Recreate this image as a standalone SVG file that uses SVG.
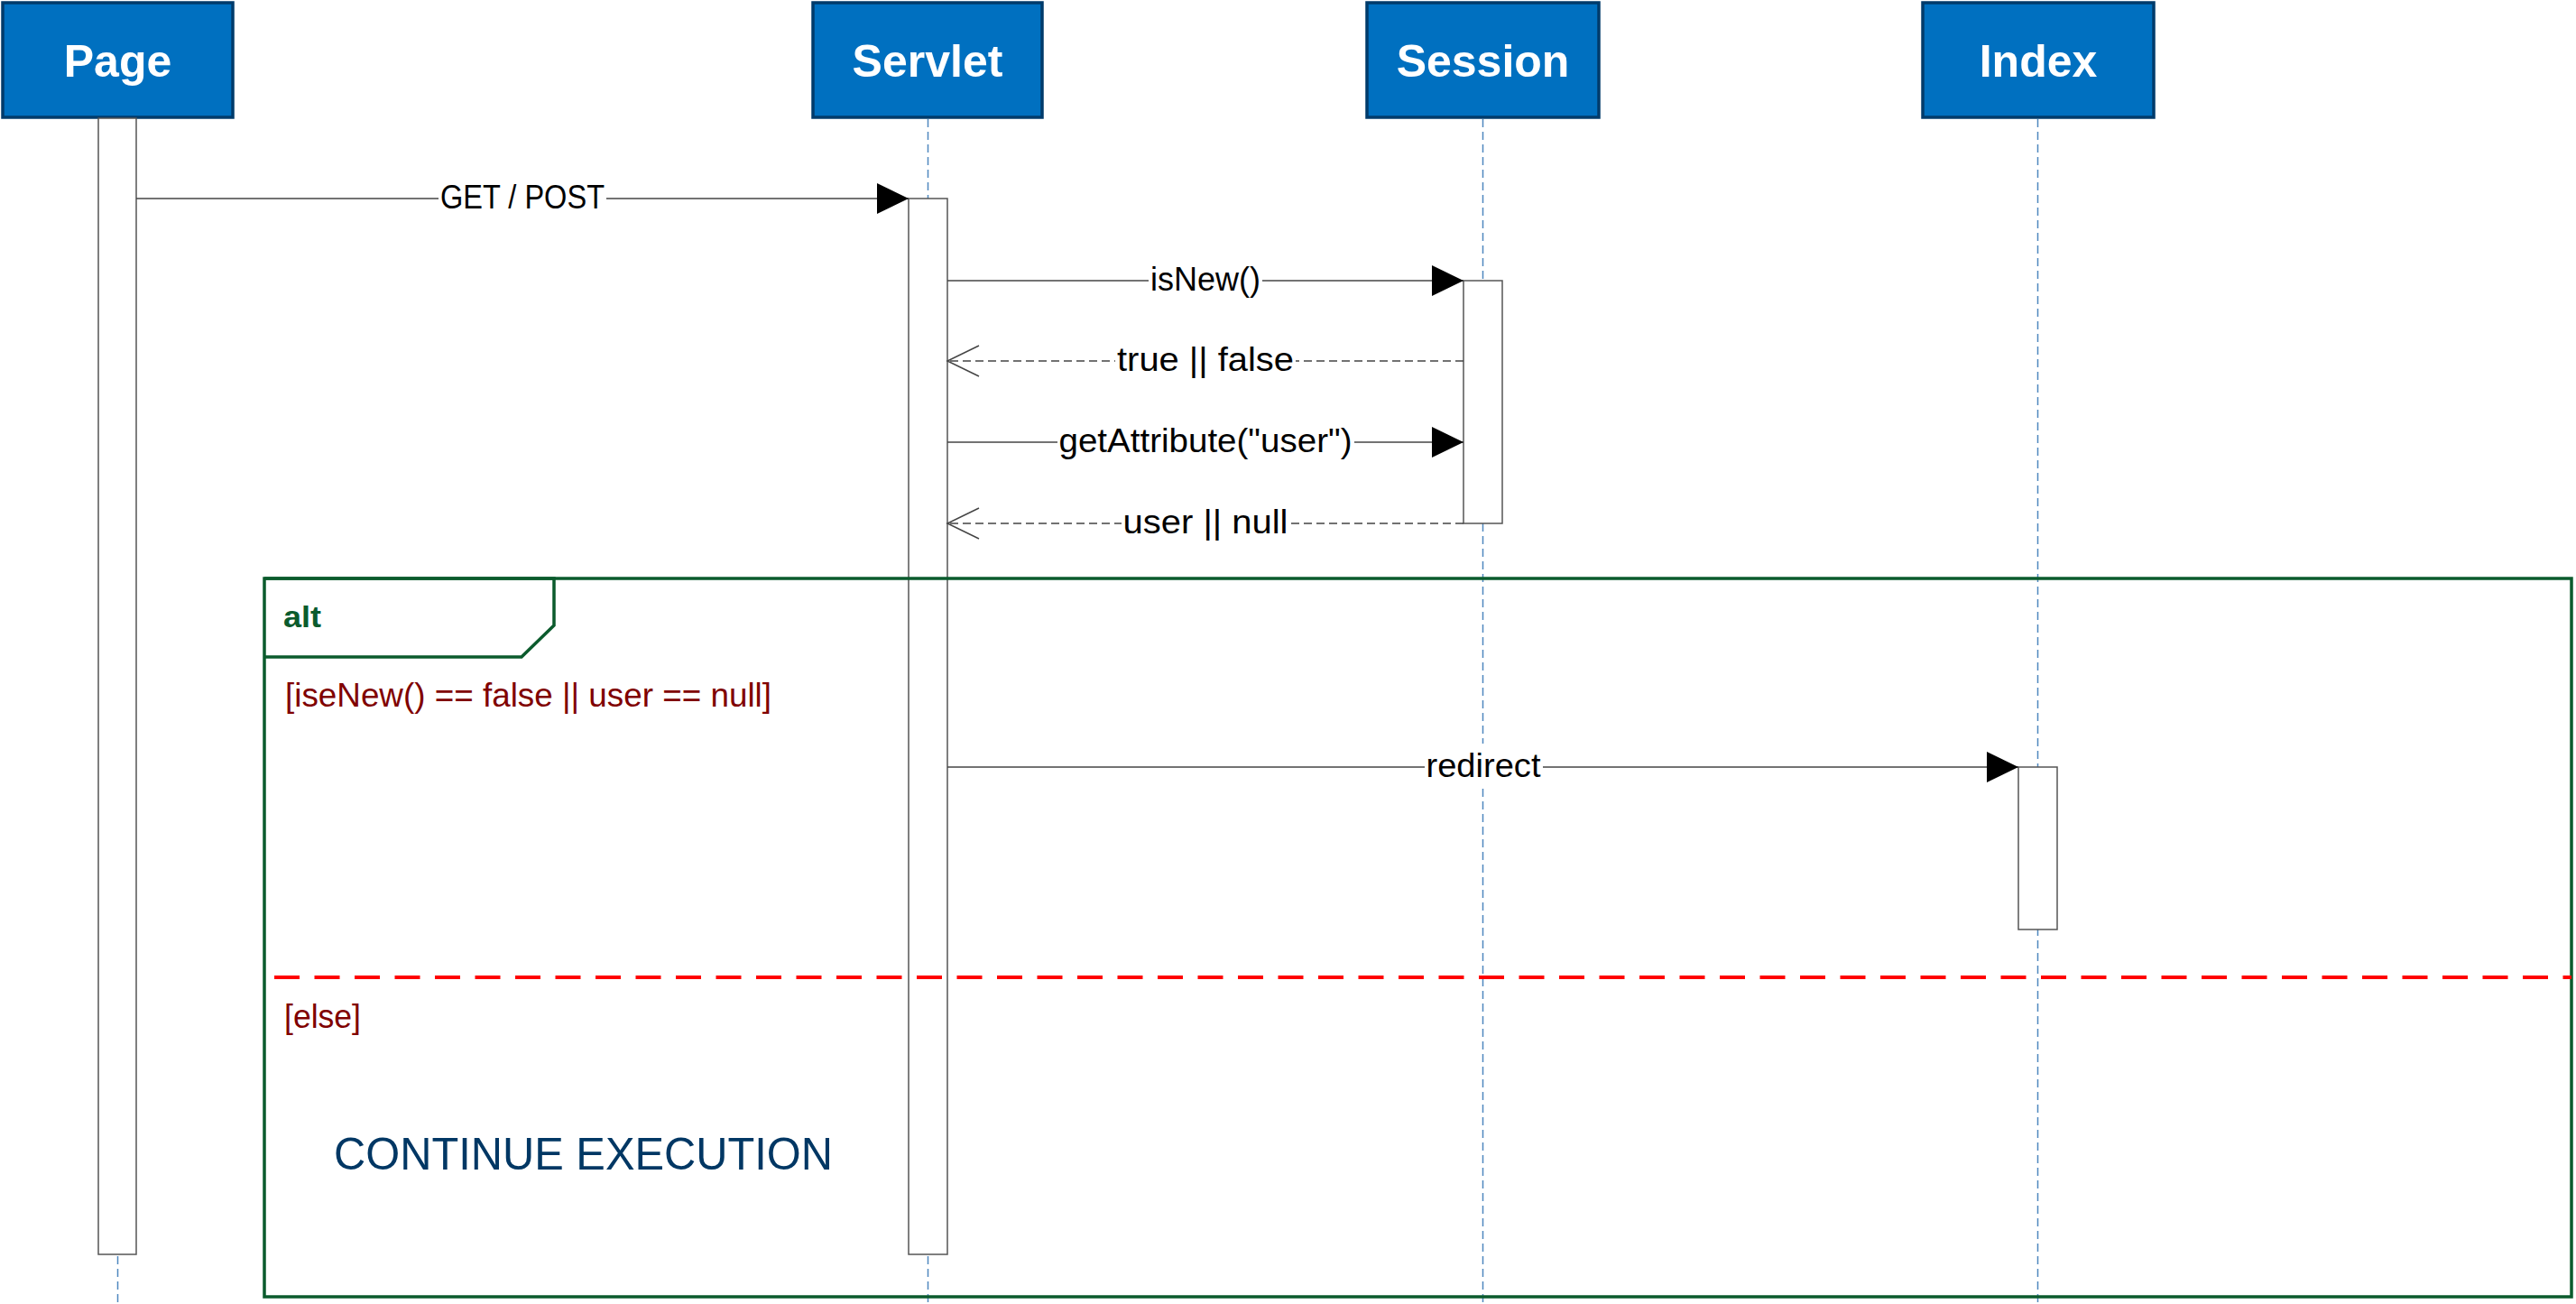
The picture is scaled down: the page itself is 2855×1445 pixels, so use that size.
<svg xmlns="http://www.w3.org/2000/svg" width="2855" height="1445" viewBox="0 0 2855 1445">
<style>
.hdr{fill:#0070C0;stroke:#003B6B;stroke-width:3.5}
.hdrt{font-family:"Liberation Sans",Arial,sans-serif;font-weight:bold;font-size:50px;fill:#FFFFFF;text-anchor:middle}
.life{stroke:#4F88BF;stroke-width:1.5;stroke-dasharray:9 5;fill:none}
.act{fill:#FFFFFF;stroke:#555555;stroke-width:1.5}
.msg{stroke:#444444;stroke-width:1.5;fill:none}
.ret{stroke:#444444;stroke-width:1.5;stroke-dasharray:9 5;fill:none}
.lbl{font-family:"Liberation Sans",Arial,sans-serif;font-size:36px;fill:#000000;text-anchor:middle}
.bg{fill:#FFFFFF}
.frame{fill:none;stroke:#0B5B2D;stroke-width:3.5}
.guard{font-family:"Liberation Sans",Arial,sans-serif;font-size:36px;fill:#800000}
</style>
<defs>
<marker id="filled" markerUnits="userSpaceOnUse" markerWidth="36" markerHeight="36" refX="35" refY="17" orient="auto">
<path d="M0,0 L35,17 L0,34 Z" fill="#000000"/>
</marker>
<marker id="open" markerUnits="userSpaceOnUse" markerWidth="38" markerHeight="38" refX="36" refY="18" orient="auto">
<path d="M1,1 L36,18 L1,35" fill="none" stroke="#444444" stroke-width="1.5"/>
</marker>
</defs>
<rect x="0" y="0" width="2855" height="1445" fill="#FFFFFF"/>

<g id="lifelines">
<line class="life" x1="130.5" y1="132" x2="130.5" y2="1445"/>
<line class="life" x1="1028.5" y1="132" x2="1028.5" y2="1445"/>
<line class="life" x1="1643.5" y1="132" x2="1643.5" y2="1445"/>
<line class="life" x1="2258.5" y1="132" x2="2258.5" y2="1445"/>
</g>

<g id="page">
<rect class="hdr" x="3" y="3" width="255" height="127"/>
<text class="hdrt" x="130.5" y="85">Page</text>
<rect class="act" x="109" y="131" width="42" height="1259"/>
</g>
<g id="servlet">
<rect class="hdr" x="901" y="3" width="254" height="127"/>
<text class="hdrt" x="1028" y="85">Servlet</text>
<rect class="act" x="1007" y="220" width="43" height="1170"/>
</g>
<g id="session">
<rect class="hdr" x="1515" y="3" width="257" height="127"/>
<text class="hdrt" x="1643.5" y="85">Session</text>
<rect class="act" x="1622" y="311" width="43" height="269"/>
</g>
<g id="index">
<rect class="hdr" x="2131" y="3" width="256" height="127"/>
<text class="hdrt" x="2259" y="85">Index</text>
<rect class="act" x="2237" y="850" width="43" height="180"/>
</g>

<g id="alt-frame">
<rect class="frame" x="293" y="641" width="2557" height="796"/>
<path class="frame" d="M293,641 L614,641 L614,693 L578,728 L293,728"/>
<text x="314" y="695" font-family="Liberation Sans, Arial, sans-serif" font-weight="bold" font-size="33" fill="#0B5B2D" textLength="42" lengthAdjust="spacingAndGlyphs">alt</text>
<text class="guard" x="316" y="783" textLength="539" lengthAdjust="spacingAndGlyphs">[iseNew() == false || user == null]</text>
<line x1="304" y1="1083" x2="2850" y2="1083" stroke="#FF0000" stroke-width="4" stroke-dasharray="28 16.5"/>
<text class="guard" x="315" y="1139" textLength="85" lengthAdjust="spacingAndGlyphs">[else]</text>
<text x="370" y="1296" font-family="Liberation Sans, Arial, sans-serif" font-size="50" fill="#003764" textLength="553" lengthAdjust="spacingAndGlyphs">CONTINUE EXECUTION</text>
</g>

<g id="connectors">
<line class="msg" x1="151" y1="220" x2="1007" y2="220" marker-end="url(#filled)"/>
<rect class="bg" x="486" y="198" width="186" height="42"/>
<text class="lbl" x="579" y="231" textLength="182" lengthAdjust="spacingAndGlyphs">GET / POST</text>

<line class="msg" x1="1050" y1="311" x2="1622" y2="311" marker-end="url(#filled)"/>
<rect class="bg" x="1273" y="289" width="126" height="42"/>
<text class="lbl" x="1336" y="322" textLength="122" lengthAdjust="spacingAndGlyphs">isNew()</text>

<line class="ret" x1="1622" y1="400" x2="1050" y2="400" marker-end="url(#open)"/>
<rect class="bg" x="1236" y="378" width="200" height="42"/>
<text class="lbl" x="1336" y="411" textLength="196" lengthAdjust="spacingAndGlyphs">true || false</text>

<line class="msg" x1="1050" y1="490" x2="1622" y2="490" marker-end="url(#filled)"/>
<rect class="bg" x="1172" y="468" width="329" height="42"/>
<text class="lbl" x="1336" y="501" textLength="325" lengthAdjust="spacingAndGlyphs">getAttribute("user")</text>

<line class="ret" x1="1622" y1="580" x2="1050" y2="580" marker-end="url(#open)"/>
<rect class="bg" x="1243" y="558" width="187" height="42"/>
<text class="lbl" x="1336" y="591" textLength="183" lengthAdjust="spacingAndGlyphs">user || null</text>

<line class="msg" x1="1050" y1="850" x2="2237" y2="850" marker-end="url(#filled)"/>
<rect class="bg" x="1579" y="824" width="131" height="48"/>
<text class="lbl" x="1644" y="861" textLength="127" lengthAdjust="spacingAndGlyphs">redirect</text>
</g>
</svg>
